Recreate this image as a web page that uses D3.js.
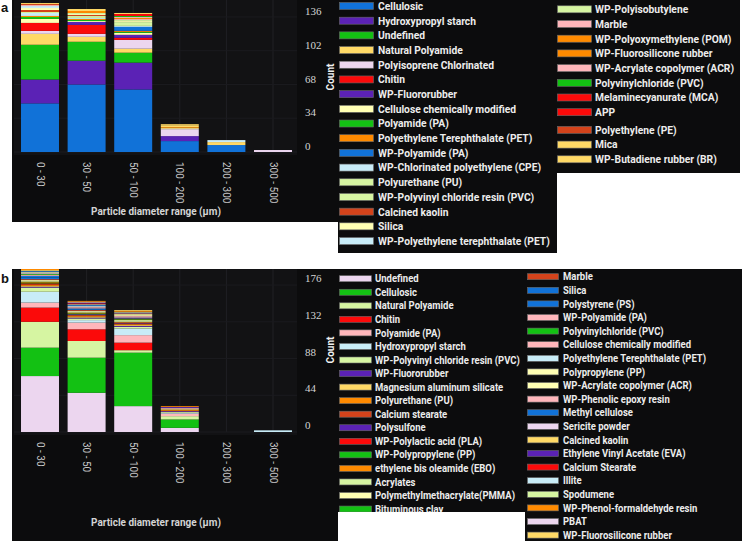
<!DOCTYPE html>
<html><head><meta charset="utf-8">
<script src="https://cdn.jsdelivr.net/npm/d3@7"></script>
<style>html,body{margin:0;padding:0;background:#fff;} svg{display:block;}</style>
</head><body><svg id="c" width="747" height="541"></svg>
<script>
// ---------- DATA ----------
const categories = ["0 - 30", "30 - 50", "50 - 100", "100 - 200", "200 - 300", "300 - 500"];
const xTitle = "Particle diameter range (\u00b5m)";
const yTitle = "Count";

const seriesA = ["Cellulosic","Hydroxypropyl starch","Undefined","Natural Polyamide","Polyisoprene Chlorinated","Chitin","WP-Fluororubber","Cellulose chemically modified","Polyamide (PA)","Polyethylene Terephthalate (PET)","WP-Polyamide (PA)","WP-Chlorinated polyethylene (CPE)","Polyurethane (PU)","WP-Polyvinyl chloride resin (PVC)","Calcined kaolin","Silica","WP-Polyethylene terephthalate (PET)","WP-Polyisobutylene","Marble","WP-Polyoxymethylene (POM)","WP-Fluorosilicone rubber","WP-Acrylate copolymer (ACR)","Polyvinylchloride (PVC)","Melaminecyanurate (MCA)","APP","Polyethylene (PE)","Mica","WP-Butadiene rubber (BR)"];
const valuesA = [
  [49,68,63,11,7,0],[24,24,27,5,0,0],[35,19,10,0,0,0],[11,5,4,0,3,0],[3,3,9,7,0,2],
  [8,9,2,0,0,0],[0,3,3,0,0,0],[4,1,2,1,0,0],[2,1,1,0,0,0],[1,1,1,0,0,0],
  [0,0,4,0,0,0],[3,1,1,0,2,0],[0,1,3,0,0,0],[1,1,1,0,0,0],[2,1,0,0,0,0],
  [2,1,1,0,0,0],[2,0,0,0,0,0],[0,1,1,0,0,0],[1,0,1,0,0,0],[0,1,1,1,0,0],
  [0,1,0,0,0,0],[0,0,1,0,0,0],[0,0,1,0,0,0],[0,0,1,0,0,0],[0,0,1,0,0,0],
  [1,0,0,0,0,0],[0,1,0,2,0,0],[1,1,1,1,0,0]
];
const ticksA = [0, 34, 68, 102, 136];

const seriesB = ["Undefined","Cellulosic","Natural Polyamide","Chitin","Polyamide (PA)","Hydroxypropyl starch","WP-Polyvinyl chloride resin (PVC)","WP-Fluororubber","Magnesium aluminum silicate","Polyurethane (PU)","Calcium stearate","Polysulfone","WP-Polylactic acid (PLA)","WP-Polypropylene (PP)","ethylene bis oleamide (EBO)","Acrylates","Polymethylmethacrylate(PMMA)","Bituminous clay","Marble","Silica","Polystyrene (PS)","WP-Polyamide (PA)","Polyvinylchloride (PVC)","Cellulose chemically modified","Polyethylene Terephthalate (PET)","Polypropylene (PP)","WP-Acrylate copolymer (ACR)","WP-Phenolic epoxy resin","Methyl cellulose","Sericite powder","Calcined kaolin","Ethylene Vinyl Acetate (EVA)","Calcium Stearate","Illite","Spodumene","WP-Phenol-formaldehyde resin","PBAT","WP-Fluorosilicone rubber"];
const valuesB = [
  [67,47,31,5,0,0],[34,42,64,10,0,0],[31,20,3,4,0,0],[17,14,9,0,0,0],[6,8,9,3,0,0],
  [13,3,8,1,0,2],[5,2,2,1,0,0],[1,1,1,1,0,0],[1,1,1,0,0,0],[1,1,1,1,0,0],
  [1,1,1,0,0,0],[0,1,1,0,0,0],[1,0,0,0,0,0],[1,1,0,0,0,0],[1,1,1,1,0,0],
  [1,1,1,0,0,0],[1,1,1,1,0,0],[0,0,1,0,0,0],[1,1,1,0,0,0],[2,1,0,0,0,0],
  [2,1,1,0,0,0],[1,1,1,1,0,0],[1,0,0,0,0,0],[1,1,1,0,0,0],[1,1,0,0,0,0],
  [1,0,1,0,0,0],[0,0,1,0,0,0],[0,0,0,0,0,0],[1,1,0,0,0,0],[0,0,0,0,0,0],
  [1,1,1,0,0,0],[0,1,1,1,0,0],[0,1,0,0,0,0],[0,1,0,0,0,0],[0,0,1,0,0,0],
  [2,1,1,1,0,0],[0,0,0,0,0,0],[0,0,1,0,0,0]
];
const ticksB = [0, 44, 88, 132, 176];

// ---------- STYLE ----------
const C = {
  blue:"#1172d8", purple:"#5b22b5", green:"#13c113", yellow:"#ffd966", lavender:"#ecd6ef",
  red:"#fb0a0a", pale:"#ffffb4", orange:"#ff8a00", lblue:"#c8ecf7", lgreen:"#d6f5a2",
  brick:"#d4431b", pink:"#ffb6bb"
};
const colorsA = [C.blue,C.purple,C.green,C.yellow,C.lavender,C.red,C.purple,C.pale,C.green,C.orange,
  C.blue,C.lblue,C.lgreen,C.lgreen,C.brick,C.pale,C.lblue,C.lgreen,C.pink,C.orange,
  C.orange,C.pink,C.green,C.red,C.red,C.brick,C.yellow,C.yellow];
const colorsB = [C.lavender,C.green,C.lgreen,C.red,C.pink,C.lblue,C.lgreen,C.purple,C.yellow,C.orange,
  C.brick,C.purple,C.red,C.green,C.orange,C.lgreen,C.pale,C.green,C.brick,C.blue,
  C.blue,C.pink,C.green,C.pink,C.lblue,C.pale,C.pale,C.pink,C.blue,C.lavender,
  C.yellow,C.purple,C.red,C.lblue,C.lgreen,C.orange,C.lavender,C.yellow];

const svg = d3.select("#c");
const defs = svg.append("defs");
const FONT = "Roboto, 'Liberation Sans', sans-serif";
let clipN = 0;
function clip(x, y, w, h) {
  const id = "cl" + (clipN++);
  defs.append("clipPath").attr("id", id).append("rect").attr("x", x).attr("y", y).attr("width", w).attr("height", h);
  return "url(#" + id + ")";
}

function chart(o) {
  const g = svg.append("g").attr("clip-path", clip(o.box[0], o.box[1], o.box[2], o.box[3]));
  g.append("rect").attr("x", o.box[0]).attr("y", o.box[1]).attr("width", o.box[2]).attr("height", o.box[3])
    .attr("fill", "#0c0c0d");
  const x = d3.scaleBand().domain(categories).range([16.7, 296.3]).paddingInner(0.185).paddingOuter(0.0925);
  const y = d3.scaleLinear().domain([0, o.ymax]).range([o.base, o.base - o.ymax * o.k]);
  g.append("rect").attr("x", 14).attr("y", o.box[1]).attr("width", 283).attr("height", o.base + 3 - o.box[1])
    .attr("fill", "#121214");
  // grid
  g.selectAll("line.vg").data(categories).join("line")
    .attr("x1", d => x(d) + x.bandwidth() / 2).attr("x2", d => x(d) + x.bandwidth() / 2)
    .attr("y1", o.box[1]).attr("y2", o.base).attr("stroke", "#202024").attr("stroke-width", 1);
  g.selectAll("line.hg").data(o.ticks).join("line")
    .attr("x1", 14).attr("x2", 297).attr("y1", d => y(d)).attr("y2", d => y(d))
    .attr("stroke", "#1b1b1f").attr("stroke-width", 1);
  // bars
  const table = categories.map((c, i) => {
    const r = { cat: c };
    o.names.forEach((n, j) => { r[j] = o.values[j][i]; });
    return r;
  });
  const stack = d3.stack().keys(o.names.map((n, j) => j))(table);
  g.append("g").selectAll("g").data(stack).join("g")
    .attr("fill", (d, j) => o.colors[j])
    .selectAll("rect").data(d => d.filter(s => s[1] > s[0])).join("rect")
    .attr("x", d => x(d.data.cat)).attr("width", x.bandwidth())
    .attr("y", d => y(d[1])).attr("height", d => y(d[0]) - y(d[1]));
  // y axis (right)
  const ya = g.append("g").attr("transform", `translate(305,${-o.lblOff})`)
    .call(d3.axisRight(y).tickValues(o.ticks).tickSize(0).tickPadding(0));
  ya.select(".domain").remove();
  ya.selectAll("text").attr("fill", "#d4d4d4").style("font-family", "'Liberation Serif', serif").style("font-size", "11px");
  // x axis
  const xa = g.append("g").attr("transform", `translate(0,${o.base + 10})`)
    .call(d3.axisBottom(x).tickSize(0).tickPadding(0));
  xa.select(".domain").remove();
  xa.selectAll("text").attr("y", 0).attr("x", 0).attr("dy", "0.35em").attr("transform", "rotate(90)")
    .style("text-anchor", "start").attr("fill", "#c8c8c8").style("font-family", FONT).style("font-size", "10px");
  g.append("text").attr("x", 156).attr("y", o.xtY).attr("text-anchor", "middle").attr("dy", "0.35em")
    .attr("fill", "#d4d4d4").style("font-family", FONT).style("font-size", "10px").style("font-weight", 700)
    .text(xTitle);
  g.append("text").attr("transform", `translate(330,${o.ytY}) rotate(-90)`).attr("text-anchor", "middle").attr("dy", "0.35em")
    .attr("fill", "#f0f0f0").style("font-family", FONT).style("font-size", "10px").style("font-weight", 700)
    .text(yTitle);
}

function legend(o) {
  const g = svg.append("g").attr("clip-path", clip(o.box[0], o.box[1], o.box[2], o.box[3]));
  g.append("rect").attr("x", o.box[0]).attr("y", o.box[1]).attr("width", o.box[2]).attr("height", o.box[3]).attr("fill", "#0c0c0d");
  const rowY = i => o.y0 + i * o.step + (o.gapAfter != null && i > o.gapAfter ? o.gap : 0);
  const items = o.names.map((n, i) => ({ n, c: o.colors[i], i }));
  const it = g.selectAll("g.it").data(items).join("g");
  it.append("rect").attr("x", o.sx).attr("y", d => rowY(d.i) - o.sh / 2).attr("width", o.sw).attr("height", o.sh)
    .attr("fill", d => d.c).attr("stroke", "#6a6a6a").attr("stroke-width", 0.6);
  it.append("text").attr("transform", d => `translate(${o.tx},${rowY(d.i)}) scale(${o.sc},1)`)
    .attr("dy", "0.36em").attr("fill", "#ececec").style("font-family", FONT).style("font-size", o.fs + "px")
    .style("font-weight", 700).text(d => d.n);
}

// panel labels
svg.append("text").attr("x", 1).attr("y", 12).text("a").style("font-family", "'Liberation Sans', Arial, sans-serif").style("font-weight", 700).style("font-size", "13px").attr("fill", "#111");
svg.append("text").attr("x", 1).attr("y", 283).text("b").style("font-family", "'Liberation Sans', Arial, sans-serif").style("font-weight", 700).style("font-size", "13px").attr("fill", "#111");

chart({ box: [12, 0, 326, 222], names: seriesA, values: valuesA, colors: colorsA, ticks: ticksA,
  ymax: 152, base: 152, k: 0.993, lblOff: 6, xtY: 211, ytY: 77 });
chart({ box: [12, 269, 326, 272], names: seriesB, values: valuesB, colors: colorsB, ticks: ticksB,
  ymax: 200, base: 432, k: 0.835, lblOff: 7, xtY: 522, ytY: 350 });

legend({ box: [338, 0, 219, 253], names: seriesA.slice(0, 17), colors: colorsA.slice(0, 17),
  y0: 6, step: 14.69, sx: 339.5, sw: 34, sh: 7, tx: 378, fs: 10.8, sc: 0.95 });
legend({ box: [555, 0, 185, 173], names: seriesA.slice(17), colors: colorsA.slice(17),
  y0: 9.3, step: 14.7, gapAfter: 7, gap: 3, sx: 557.5, sw: 34, sh: 7, tx: 595, fs: 10.8, sc: 0.95 });
legend({ box: [338, 269, 189, 243], names: seriesB.slice(0, 18), colors: colorsB.slice(0, 18),
  y0: 278.7, step: 13.55, sx: 339.5, sw: 32, sh: 6, tx: 375, fs: 10, sc: 0.95 });
legend({ box: [525, 269, 217, 272], names: seriesB.slice(18), colors: colorsB.slice(18),
  y0: 276.7, step: 13.6, sx: 527.5, sw: 31, sh: 6, tx: 563, fs: 10, sc: 0.95 });
</script></body></html>
